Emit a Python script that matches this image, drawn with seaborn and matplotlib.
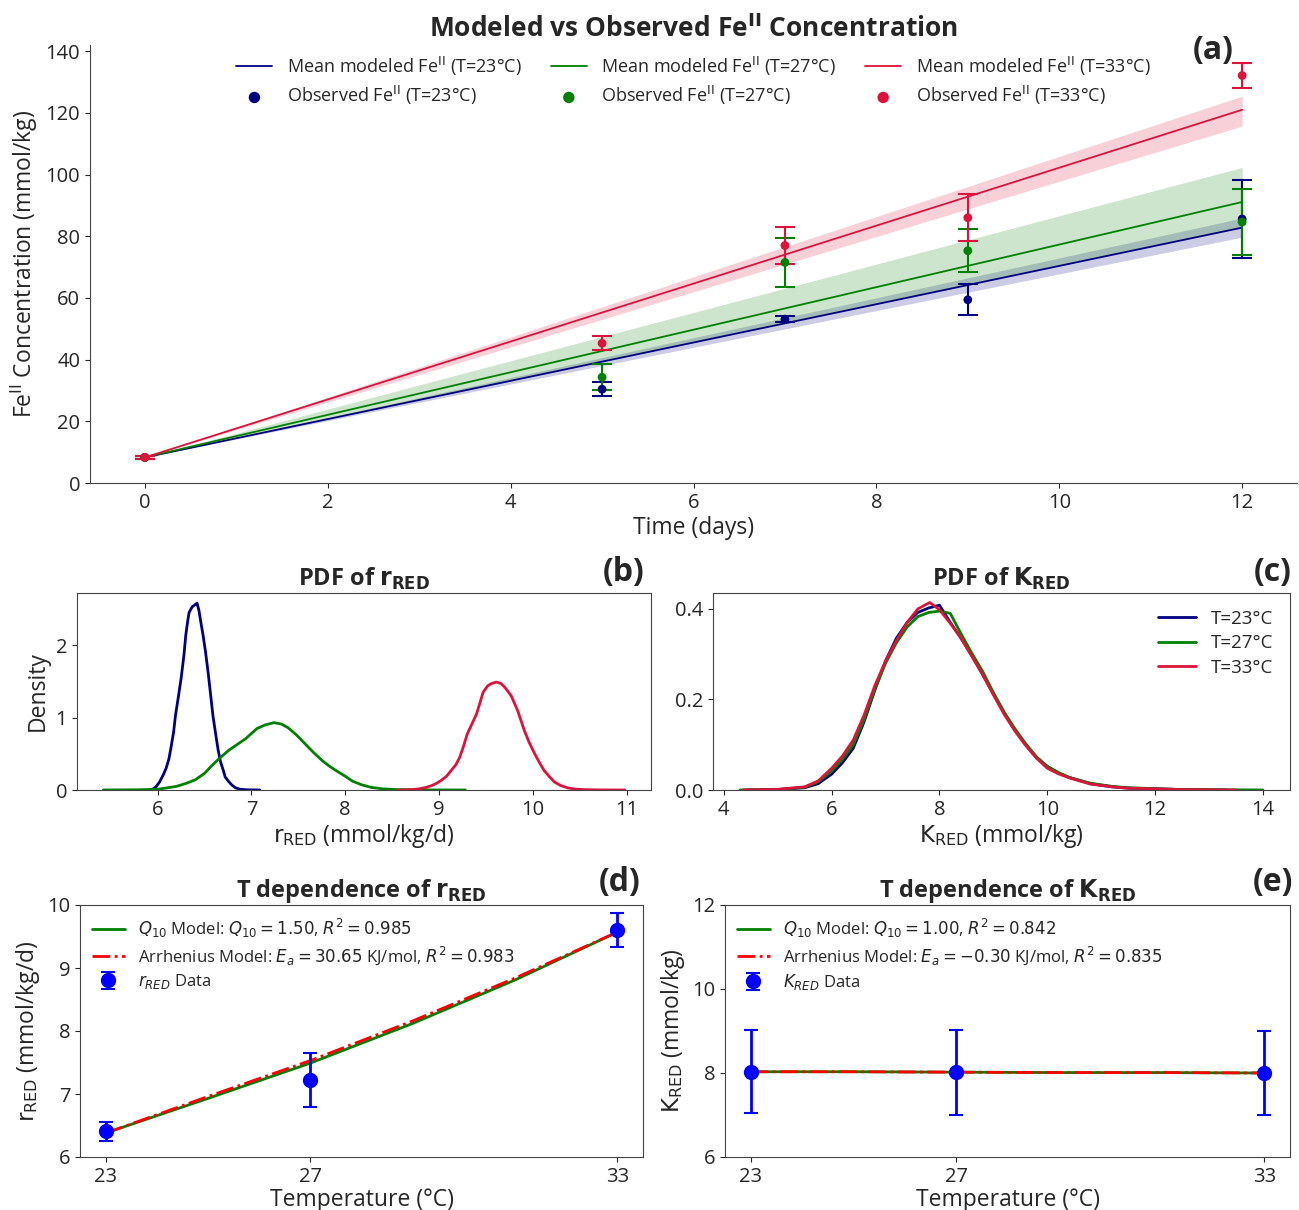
import numpy as np
import pandas as pd
import matplotlib
matplotlib.use("Agg")
import matplotlib.pyplot as plt
import seaborn as sns

# ---- data ----
temps = [23, 27, 33]
temp_labels = ["T=23°C", "T=27°C", "T=33°C"]
colors = ["navy", "green", "crimson"]

# (a) modelled Fe(II): mean and band at start / end of run
model_days = [0, 12]
mean_23 = [8.3, 82.8]
mean_27 = [8.3, 91.1]
mean_33 = [8.3, 121.0]
low_23 = [8.3, 79.7]
high_23 = [8.3, 85.9]
low_27 = [8.3, 82.8]
high_27 = [8.3, 102.3]
low_33 = [8.3, 115.7]
high_33 = [8.3, 125.4]

# (a) observed Fe(II)
obs_days = [0, 5, 7, 9, 12]
obs_23 = [8.3, 30.4, 53.1, 59.4, 85.6]
err_23 = [0.5, 2.2, 0.9, 5.0, 12.6]
obs_27 = [8.3, 34.3, 71.5, 75.3, 84.6]
err_27 = [0.5, 4.2, 7.8, 7.0, 10.8]
obs_33 = [8.3, 45.3, 77.0, 86.0, 132.1]
err_33 = [0.5, 2.3, 6.0, 7.7, 4.0]

# (b) PDF of r_RED
r_x_23 = [5.93, 5.98, 6.02, 6.06, 6.09, 6.12, 6.14, 6.17, 6.19, 6.22, 6.25, 6.28,
          6.30, 6.32, 6.335, 6.355, 6.37, 6.40, 6.42, 6.44, 6.46, 6.485, 6.51,
          6.54, 6.565, 6.59, 6.62, 6.645, 6.67, 6.70, 6.72, 6.755, 6.79, 6.83,
          6.88, 6.95, 7.09]
r_d_23 = [0.0, 0.04, 0.11, 0.21, 0.30, 0.43, 0.57, 0.80, 1.03, 1.28, 1.54, 1.86,
          2.14, 2.33, 2.45, 2.50, 2.53, 2.56, 2.58, 2.48, 2.32, 2.13, 1.91,
          1.60, 1.31, 1.02, 0.76, 0.55, 0.39, 0.27, 0.18, 0.12, 0.07, 0.03,
          0.01, 0.003, 0.0]
r_x_27 = [5.42, 5.8, 6.0, 6.2, 6.3, 6.4, 6.5, 6.58, 6.67, 6.76, 6.85, 6.94,
          7.0, 7.06, 7.15, 7.24, 7.32, 7.39, 7.48, 7.57, 7.66, 7.76, 7.83,
          7.9, 8.0, 8.08, 8.18, 8.28, 8.4, 8.56, 8.9, 9.28]
r_d_27 = [0.0, 0.003, 0.01, 0.05, 0.09, 0.14, 0.23, 0.34, 0.45, 0.55, 0.63, 0.71,
          0.78, 0.85, 0.90, 0.93, 0.91, 0.86, 0.76, 0.64, 0.52, 0.40, 0.33,
          0.27, 0.19, 0.12, 0.07, 0.035, 0.015, 0.005, 0.001, 0.0]
r_x_33 = [8.56, 8.7, 8.78, 8.86, 8.92, 8.97, 9.02, 9.08, 9.13, 9.18, 9.22, 9.26,
          9.30, 9.35, 9.40, 9.44, 9.47, 9.52, 9.56, 9.61, 9.66, 9.70, 9.77,
          9.84, 9.91, 9.96, 10.02, 10.07, 10.12, 10.18, 10.23, 10.30, 10.37,
          10.45, 10.55, 10.7, 10.98]
r_d_33 = [0.0, 0.005, 0.014, 0.035, 0.06, 0.09, 0.13, 0.19, 0.27, 0.35, 0.45, 0.60,
          0.77, 0.91, 1.05, 1.22, 1.35, 1.44, 1.47, 1.49, 1.47, 1.42, 1.30,
          1.09, 0.82, 0.66, 0.50, 0.38, 0.27, 0.18, 0.11, 0.06, 0.03,
          0.012, 0.005, 0.001, 0.0]

# (c) PDF of K_RED
k_x_23 = [4.4, 5.0, 5.5, 5.75, 6.0, 6.2, 6.4, 6.6, 6.8, 7.0, 7.2, 7.4, 7.6, 7.8,
          8.0, 8.2, 8.4, 8.6, 8.8, 9.0, 9.2, 9.4, 9.6, 9.8, 10.0, 10.2, 10.4,
          10.8, 11.2, 11.5, 12.5, 13.3]
k_d_23 = [0.0, 0.001, 0.005, 0.014, 0.035, 0.06, 0.092, 0.15, 0.22, 0.285, 0.335,
          0.37, 0.392, 0.402, 0.408, 0.37, 0.335, 0.297, 0.255, 0.212, 0.17, 0.132,
          0.10, 0.072, 0.052, 0.038, 0.028, 0.014, 0.007, 0.004, 0.001, 0.0]
k_x_27 = [4.3, 5.0, 5.5, 5.75, 6.0, 6.2, 6.4, 6.6, 6.8, 7.0, 7.2, 7.4, 7.6, 7.8,
          8.0, 8.2, 8.4, 8.6, 8.8, 9.0, 9.2, 9.4, 9.6, 9.8, 10.0, 10.2, 10.4,
          10.8, 11.2, 11.5, 12.5, 14.0]
k_d_27 = [0.0, 0.001, 0.006, 0.018, 0.042, 0.068, 0.10, 0.155, 0.222, 0.28, 0.325,
          0.36, 0.383, 0.392, 0.395, 0.39, 0.345, 0.302, 0.262, 0.215, 0.172, 0.135,
          0.102, 0.073, 0.052, 0.039, 0.028, 0.015, 0.008, 0.005, 0.001, 0.0]
k_x_33 = [4.35, 5.0, 5.5, 5.75, 6.0, 6.2, 6.4, 6.6, 6.8, 7.0, 7.2, 7.4, 7.6, 7.82,
          8.0, 8.2, 8.4, 8.6, 8.8, 9.0, 9.2, 9.4, 9.6, 9.8, 10.0, 10.2, 10.4,
          10.8, 11.2, 11.5, 12.5, 13.5]
k_d_33 = [0.0, 0.0015, 0.007, 0.02, 0.048, 0.075, 0.11, 0.165, 0.23, 0.285, 0.33,
          0.37, 0.40, 0.414, 0.398, 0.368, 0.335, 0.295, 0.255, 0.21, 0.167, 0.13,
          0.098, 0.07, 0.048, 0.036, 0.027, 0.013, 0.007, 0.004, 0.001, 0.0]

# (d) r_RED vs temperature
r_mean = [6.41, 7.22, 9.61]
r_err = [0.15, 0.43, 0.27]
fit_T = [23, 25, 27, 29, 31, 33]
r_q10 = [6.38, 6.93, 7.49, 8.12, 8.81, 9.57]
r_arr = [6.38, 6.96, 7.53, 8.16, 8.84, 9.57]

# (e) K_RED vs temperature
k_mean = [8.03, 8.02, 8.00]
k_err = [0.99, 1.01, 0.99]
k_q10 = [8.03, 8.03, 8.02, 8.01, 8.01, 8.00]
k_arr = [8.03, 8.03, 8.02, 8.01, 8.01, 8.00]

# ---- style ----
sns.set_style("ticks")
plt.rcParams['font.family'] = ['Open Sans', 'DejaVu Sans']
plt.rcParams['axes.edgecolor'] = '#444444'
plt.rcParams['xtick.labelsize'] = 14.5
plt.rcParams['ytick.labelsize'] = 14.5
plt.rcParams['axes.labelsize'] = 16.5

W, H = 1299, 1210
fig = plt.figure(figsize=(W / 100, H / 100), dpi=100)


def box(l, r, t, b):
    return [l / W, (H - b) / H, (r - l) / W, (b - t) / H]


ax_a = fig.add_axes(box(90, 1297, 45, 483))
ax_b = fig.add_axes(box(77, 651, 593, 790))
ax_c = fig.add_axes(box(713, 1290, 593, 790))
ax_d = fig.add_axes(box(80, 643, 905, 1157))
ax_e = fig.add_axes(box(725, 1290, 905, 1157))

# ---- (a) ----
means = [mean_23, mean_27, mean_33]
lows = [low_23, low_27, low_33]
highs = [high_23, high_27, high_33]
obs = [obs_23, obs_27, obs_33]
errs = [err_23, err_27, err_33]
for i in range(3):
    ax_a.fill_between(model_days, lows[i], highs[i], color=colors[i], alpha=0.2, linewidth=0)
for i in range(3):
    sns.lineplot(x=model_days, y=means[i], color=colors[i], lw=1.3, ax=ax_a,
                 label=r'Mean modeled Fe$^{\mathrm{II}}$ (' + temp_labels[i] + ')')
    ax_a.errorbar(obs_days, obs[i], yerr=errs[i], fmt='none', ecolor=colors[i],
                  elinewidth=1.5, capsize=7, capthick=1.5)
    sns.scatterplot(x=obs_days, y=obs[i], color=colors[i], s=40, edgecolor='none', ax=ax_a,
                    label=r'Observed Fe$^{\mathrm{II}}$ (' + temp_labels[i] + ')', zorder=5)
ax_a.legend(ncol=3, loc='upper center', frameon=False, fontsize=13, labelspacing=0.35,
            columnspacing=1.6, markerscale=1.3, bbox_to_anchor=(0.5, 1.015))
ax_a.set_xlim(-0.6, 12.6)
ax_a.set_ylim(0, 142)
ax_a.set_xticks([0, 2, 4, 6, 8, 10, 12])
ax_a.set_yticks(range(0, 141, 20))
ax_a.set_xlabel('Time (days)', labelpad=2)
ax_a.set_ylabel(r'Fe$^{\mathrm{II}}$ Concentration (mmol/kg)')
ax_a.set_title(r'Modeled vs Observed Fe$^{\mathbf{II}}$ Concentration',
               fontsize=19, fontweight='bold', pad=6)
sns.despine(ax=ax_a)

# ---- (b) ----
rx = [r_x_23, r_x_27, r_x_33]
rd = [r_d_23, r_d_27, r_d_33]
for i in range(3):
    sns.lineplot(x=rx[i], y=rd[i], color=colors[i], lw=2, ax=ax_b)
ax_b.set_xlim(5.14, 11.26)
ax_b.set_ylim(0, 2.72)
ax_b.set_xticks([6, 7, 8, 9, 10, 11])
ax_b.set_yticks([0, 1, 2])
ax_b.set_xlabel(r'$\mathrm{r_{RED}}$ (mmol/kg/d)', labelpad=2)
ax_b.set_ylabel('Density')
ax_b.set_title(r'PDF of $\mathbf{r_{RED}}$', fontsize=17, fontweight='bold', pad=5)

# ---- (c) ----
kx = [k_x_23, k_x_27, k_x_33]
kd = [k_d_23, k_d_27, k_d_33]
for i in range(3):
    sns.lineplot(x=kx[i], y=kd[i], color=colors[i], lw=2, ax=ax_c, label=temp_labels[i])
ax_c.legend(loc='upper right', frameon=False, fontsize=13.5, labelspacing=0.35)
ax_c.set_xlim(3.8, 14.5)
ax_c.set_ylim(0, 0.435)
ax_c.set_xticks([4, 6, 8, 10, 12, 14])
ax_c.set_yticks([0.0, 0.2, 0.4])
ax_c.set_xlabel(r'$\mathrm{K_{RED}}$ (mmol/kg)', labelpad=2)
ax_c.set_ylabel('')
ax_c.set_title(r'PDF of $\mathbf{K_{RED}}$', fontsize=17, fontweight='bold', pad=5)

# ---- (d) ----
sns.lineplot(x=fit_T, y=r_q10, color='green', lw=2, ax=ax_d,
             label=r'$Q_{10}$ Model: $Q_{10} = 1.50$, $R^2 = 0.985$')
sns.lineplot(x=fit_T, y=r_arr, color='red', lw=2, ls='-.', ax=ax_d,
             label=r'Arrhenius Model: $E_a = 30.65$ KJ/mol, $R^2 = 0.983$')
ax_d.errorbar(temps, r_mean, yerr=r_err, fmt='o', color='blue', ms=10, capsize=5,
              elinewidth=2, capthick=1.5, label=r'$r_{RED}$ Data', zorder=5)
ax_d.legend(loc='upper left', frameon=False, fontsize=12, labelspacing=0.3,
            borderaxespad=0.3)
ax_d.set_xlim(22.5, 33.5)
ax_d.set_ylim(6, 10)
ax_d.set_xticks(temps)
ax_d.set_yticks([6, 7, 8, 9, 10])
ax_d.set_xlabel('Temperature (°C)', labelpad=1)
ax_d.set_ylabel(r'$\mathrm{r_{RED}}$ (mmol/kg/d)')
ax_d.set_title(r'T dependence of $\mathbf{r_{RED}}$', fontsize=17, fontweight='bold', pad=5)

# ---- (e) ----
sns.lineplot(x=fit_T, y=k_q10, color='green', lw=2, ax=ax_e,
             label=r'$Q_{10}$ Model: $Q_{10} = 1.00$, $R^2 = 0.842$')
sns.lineplot(x=fit_T, y=k_arr, color='red', lw=2, ls='-.', ax=ax_e,
             label=r'Arrhenius Model: $E_a = -0.30$ KJ/mol, $R^2 = 0.835$')
ax_e.errorbar(temps, k_mean, yerr=k_err, fmt='o', color='blue', ms=10, capsize=5,
              elinewidth=2, capthick=1.5, label=r'$K_{RED}$ Data', zorder=5)
ax_e.legend(loc='upper left', frameon=False, fontsize=12, labelspacing=0.3,
            borderaxespad=0.3)
ax_e.set_xlim(22.5, 33.5)
ax_e.set_ylim(6, 12)
ax_e.set_xticks(temps)
ax_e.set_yticks([6, 8, 10, 12])
ax_e.set_xlabel('Temperature (°C)', labelpad=1)
ax_e.set_ylabel(r'$\mathrm{K_{RED}}$ (mmol/kg)')
ax_e.set_title(r'T dependence of $\mathbf{K_{RED}}$', fontsize=17, fontweight='bold', pad=5)

# panel letters
for txt, x, y in [('(a)', 1213, 50), ('(b)', 624, 573), ('(c)', 1273, 573),
                  ('(d)', 620, 883), ('(e)', 1273, 883)]:
    fig.text(x / W, 1 - y / H, txt, fontsize=23, fontweight='bold', ha='center', va='center')

fig.savefig('out.png', dpi=100)
